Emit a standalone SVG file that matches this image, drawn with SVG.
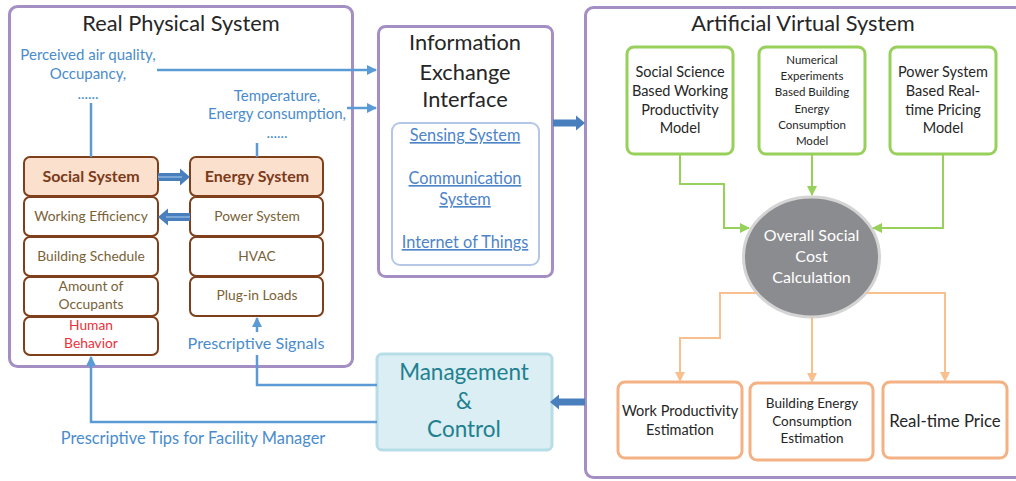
<svg xmlns="http://www.w3.org/2000/svg" width="1016" height="481" viewBox="0 0 1016 481">
<style>
text{font-family:Lato,"Liberation Sans",sans-serif;text-anchor:middle}
.frame{fill:#fff;stroke:#a48fc4;stroke-width:3}
.title{font-size:21.8px;fill:#262626}
.blue{fill:#4a8ccb}
.bline{fill:none;stroke:#5b9bd5;stroke-width:2.5}
.brown{fill:#fff;stroke:#7f3f1a;stroke-width:2}
.peach{fill:#fbe0cd;stroke:#7f3f1a;stroke-width:2}
.btxt{font-size:13.8px;fill:#7a6236}
.head{font-size:16px;font-weight:bold;fill:#7b3a1a}
.green{fill:#fff;stroke:#97d05a;stroke-width:3}
.gline{fill:none;stroke:#97d05a;stroke-width:2}
.orange{fill:#fff;stroke:#f4b183;stroke-width:3}
.oline{fill:none;stroke:#f8c08f;stroke-width:2}
.dark{fill:#262626}
.link{font-size:16.3px;fill:#4d84c8;text-decoration:underline}
.block{fill:#4a7fbd}
</style>
<defs>
<marker id="ab" viewBox="0 0 10 10" refX="9" refY="5" markerWidth="4" markerHeight="4" orient="auto" markerUnits="strokeWidth"><path d="M0,0 L10,5 L0,10 Z" fill="#5b9bd5"/></marker>
<marker id="ag" viewBox="0 0 10 10" refX="9" refY="5" markerWidth="5" markerHeight="5" orient="auto" markerUnits="strokeWidth"><path d="M0,0 L10,5 L0,10 Z" fill="#97d05a"/></marker>
<marker id="ao" viewBox="0 0 10 10" refX="9" refY="5" markerWidth="5" markerHeight="5" orient="auto" markerUnits="strokeWidth"><path d="M0,0 L10,5 L0,10 Z" fill="#f8c08f"/></marker>
</defs>

<g id="real-physical-system">
<rect class="frame" x="9.5" y="6.5" width="343" height="360" rx="8"/>
<text class="title" x="181" y="31">Real Physical System</text>
</g>

<g id="artificial-virtual-system">
<rect class="frame" x="585.5" y="7.5" width="440" height="470" rx="8"/>
<text class="title" x="803" y="31">Artificial Virtual System</text>
</g>

<g id="info-exchange">
<rect class="frame" x="378.5" y="26.5" width="174" height="250" rx="7"/>
<text class="title" x="465" y="50">Information</text>
<text class="title" x="465" y="80">Exchange</text>
<text class="title" x="465" y="107">Interface</text>
<rect x="392" y="123" width="147" height="142" rx="8" fill="#fff" stroke="#b4c7e7" stroke-width="2"/>
<text class="link" x="465" y="141">Sensing System</text>
<text class="link" x="465" y="184">Communication</text>
<text class="link" x="465" y="205">System</text>
<text class="link" x="465" y="248">Internet of Things</text>
</g>

<g id="management-control">
<rect x="377" y="354" width="175" height="96" rx="5" fill="#daeef3" stroke="#b7dde8" stroke-width="3"/>
<text x="464" y="380" font-size="22.5" fill="#21808f">Management</text>
<text x="464" y="409" font-size="22.5" fill="#21808f">&amp;</text>
<text x="464" y="437" font-size="22.5" fill="#21808f">Control</text>
</g>

<g id="labels">
<text class="blue" x="88" y="60" font-size="15">Perceived air quality,</text>
<text class="blue" x="88" y="79" font-size="15">Occupancy,</text>
<text class="blue" x="88" y="99" font-size="15">......</text>
<text class="blue" x="277" y="101" font-size="15">Temperature,</text>
<text class="blue" x="277" y="119" font-size="15">Energy consumption,</text>
<text class="blue" x="277" y="138" font-size="15">......</text>
<text class="blue" x="256" y="349" font-size="16.2">Prescriptive Signals</text>
<text class="blue" x="193" y="444" font-size="16.4">Prescriptive Tips for Facility Manager</text>
</g>

<g id="social-system">
<rect class="peach" x="24" y="157" width="134" height="39" rx="6"/>
<text class="head" x="91" y="182">Social System</text>
</g>
<g id="working-efficiency"><rect class="brown" x="24" y="197" width="134" height="39" rx="6"/><text class="btxt" x="91" y="221">Working Efficiency</text></g>
<g id="building-schedule"><rect class="brown" x="24" y="237" width="134" height="39" rx="6"/><text class="btxt" x="91" y="261">Building Schedule</text></g>
<g id="amount-of-occupants"><rect class="brown" x="24" y="277" width="134" height="39" rx="6"/><text class="btxt" x="91" y="291">Amount of</text><text class="btxt" x="91" y="309">Occupants</text></g>
<g id="human-behavior"><rect class="brown" x="24" y="317" width="134" height="38" rx="6"/><text class="btxt" x="91" y="330" style="fill:#ec2f3b">Human</text><text class="btxt" x="91" y="348" style="fill:#ec2f3b">Behavior</text></g>

<g id="energy-system">
<rect class="peach" x="190" y="157" width="133" height="39" rx="6"/>
<text class="head" x="257" y="182">Energy System</text>
</g>
<g id="power-system"><rect class="brown" x="190" y="197" width="133" height="39" rx="6"/><text class="btxt" x="257" y="221">Power System</text></g>
<g id="hvac"><rect class="brown" x="190" y="237" width="133" height="39" rx="6"/><text class="btxt" x="257" y="261">HVAC</text></g>
<g id="plug-in-loads"><rect class="brown" x="190" y="277" width="133" height="39" rx="6"/><text class="btxt" x="257" y="300">Plug-in Loads</text></g>

<g id="model-social"><rect class="green" x="627" y="47" width="106" height="107" rx="7"/>
<text class="dark" x="680" y="77" font-size="14.5">Social Science</text><text class="dark" x="680" y="96" font-size="14.5">Based Working</text><text class="dark" x="680" y="115" font-size="14.5">Productivity</text><text class="dark" x="680" y="133" font-size="14.5">Model</text></g>
<g id="model-energy"><rect class="green" x="759" y="47" width="106" height="107" rx="7"/>
<text class="dark" x="812" y="64" font-size="11.5">Numerical</text><text class="dark" x="812" y="80" font-size="11.5">Experiments</text><text class="dark" x="812" y="96" font-size="11.5">Based Building</text><text class="dark" x="812" y="113" font-size="11.5">Energy</text><text class="dark" x="812" y="129" font-size="11.5">Consumption</text><text class="dark" x="812" y="145" font-size="11.5">Model</text></g>
<g id="model-price"><rect class="green" x="890" y="47" width="106" height="107" rx="7"/>
<text class="dark" x="943" y="77" font-size="14.5">Power System</text><text class="dark" x="943" y="96" font-size="14.5">Based Real-</text><text class="dark" x="943" y="115" font-size="14.5">time Pricing</text><text class="dark" x="943" y="133" font-size="14.5">Model</text></g>

<g id="overall-cost">
<ellipse cx="811.5" cy="257" rx="68" ry="60" fill="#8b8c8f" stroke="#d4d4d4" stroke-width="3"/>
<text x="811.5" y="241" font-size="16" fill="#fff">Overall Social</text>
<text x="811.5" y="262" font-size="16" fill="#fff">Cost</text>
<text x="811.5" y="283" font-size="16" fill="#fff">Calculation</text>
</g>

<g id="est-work"><rect class="orange" x="618" y="382" width="124" height="76" rx="7"/><text class="dark" x="680" y="416" font-size="14.5">Work Productivity</text><text class="dark" x="680" y="435" font-size="14.5">Estimation</text></g>
<g id="est-energy"><rect class="orange" x="750" y="383" width="123" height="77" rx="7"/><text class="dark" x="812" y="408" font-size="13.5">Building Energy</text><text class="dark" x="812" y="426" font-size="13.5">Consumption</text><text class="dark" x="812" y="443" font-size="13.5">Estimation</text></g>
<g id="est-price"><rect class="orange" x="883" y="382" width="124" height="76" rx="7"/><text class="dark" x="945" y="427" font-size="16.8">Real-time Price</text></g>

<g id="connectors">
<path class="bline" d="M157,70 H376" marker-end="url(#ab)"/>
<path class="bline" d="M91,103 V157"/>
<path class="bline" d="M347,108 H376" marker-end="url(#ab)"/>
<path class="bline" d="M257,143 V157"/>
<path class="bline" d="M257,332 V318" marker-end="url(#ab)"/>
<path class="bline" d="M257,355 V385 H377"/>
<path class="bline" d="M377,422 H91 V357" marker-end="url(#ab)"/>
<path class="block" d="M158,173 H180 V168.5 L190,177 L180,185.5 V181 H158 Z"/>
<path d="M158,177 H182" stroke="#8db4e0" stroke-width="1.5"/>
<path class="block" d="M190,213 H168 V208.5 L158,217 L168,225.5 V221 H190 Z"/>
<path d="M190,217 H166" stroke="#8db4e0" stroke-width="1.5"/>
<path class="block" d="M553,119.5 H576 V115.5 L585,123 L576,130.5 V126.5 H553 Z"/>
<path class="block" d="M585,398.5 H559 V394.5 L550,402 L559,409.5 V405.5 H585 Z"/>
<path class="gline" d="M680,154 V184 H724 V228 H749" marker-end="url(#ag)"/>
<path class="gline" d="M812,154 V195" marker-end="url(#ag)"/>
<path class="gline" d="M943,154 V228 H873" marker-end="url(#ag)"/>
<path class="oline" d="M757,293 H720 V338 H680 V381" marker-end="url(#ao)"/>
<path class="oline" d="M812,317 V382" marker-end="url(#ao)"/>
<path class="oline" d="M866,293 H945 V381" marker-end="url(#ao)"/>
</g>
</svg>
